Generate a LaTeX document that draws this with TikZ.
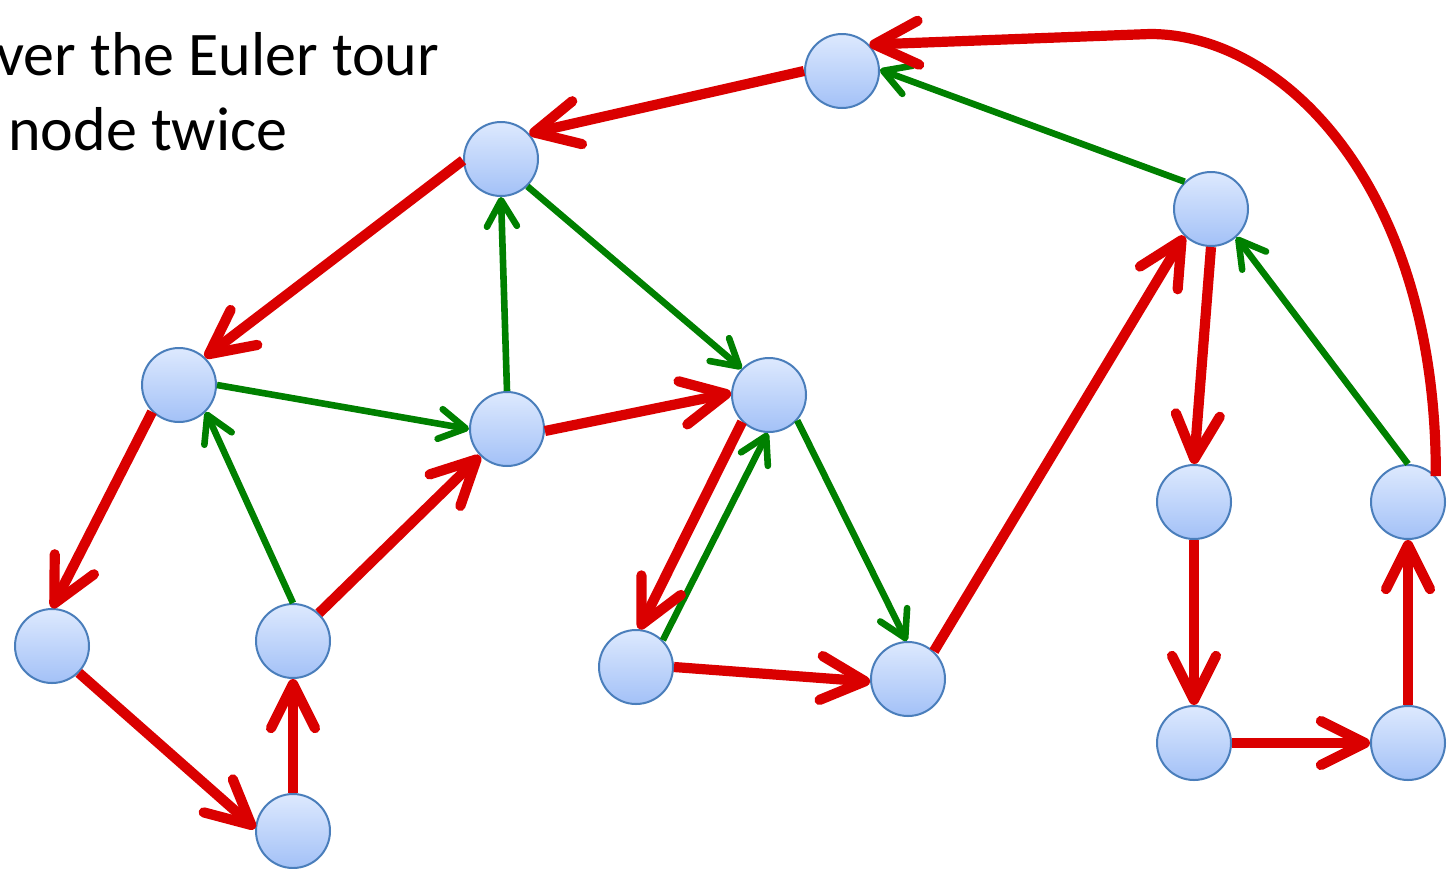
\documentclass[tikz,border=0pt]{standalone}
\usepackage{fontspec}
\setmainfont{Carlito}
\usetikzlibrary{arrows.meta}
\definecolor{tourred}{HTML}{DA0000}
\definecolor{treegreen}{HTML}{008000}
\definecolor{nodeborder}{HTML}{4A7EBB}
\definecolor{nodetop}{HTML}{DDE9FE}
\definecolor{nodebot}{HTML}{A3C1F7}
\tikzset{
  vnode/.style={circle, minimum size=37pt, inner sep=0pt, draw=nodeborder, line width=1pt, top color=nodetop, bottom color=nodebot},
  tour/.style={draw=tourred, line width=5.1pt, -{Straight Barb[length=22pt,width=22pt,line cap=round,line join=round]}},
  tree/.style={draw=treegreen, line width=3.3pt, -{Straight Barb[length=13pt,width=15pt,line cap=round,line join=round]}},
  caption/.style={anchor=base west, inner sep=0pt, font=\fontsize{31pt}{37pt}\selectfont}
}
\begin{document}
\begin{tikzpicture}[x=0.5pt,y=-0.5pt]
\useasboundingbox (0,0) rectangle (1450,868);
\node[caption] (t1) at (-4,75) {ver the Euler tour};
\node[caption] (t2) at (8,150) {node twice};
\node[vnode] (A) at (842,71) {};
\node[vnode] (B) at (501,159) {};
\node[vnode] (C) at (1211,209) {};
\node[vnode] (D) at (179,385) {};
\node[vnode] (E) at (507,429) {};
\node[vnode] (F) at (769,395) {};
\node[vnode] (G) at (52,646) {};
\node[vnode] (H) at (293,641) {};
\node[vnode] (I) at (293,831) {};
\node[vnode] (J) at (636,667) {};
\node[vnode] (K) at (908,679) {};
\node[vnode] (L) at (1194,502) {};
\node[vnode] (M) at (1408,502) {};
\node[vnode] (N) at (1194,743) {};
\node[vnode] (O) at (1408,743) {};
% tree edges
\draw[tree] (C.134) -- (A.2);
\draw[tree] (B.314) -- (F.136);
\draw[tree] (E.90) -- (B.270);
\draw[tree] (D.0) -- (E.180);
\draw[tree] (H.90) -- (D.315);
\draw[tree] (J.45) -- (F.268);
\draw[tree] (F.318) -- (K.92);
\draw[tree] (M.90) -- (C.312);
% tour edges
\draw[tour] (A.180) -- (B.42);
\draw[tour] (B.182) -- (D.47);
\draw[tour] (D.225) -- (G.90);
\draw[tour] (G.315) -- (I.176);
\draw[tour] (I.90) -- (H.270);
\draw[tour] (H.47) -- (E.225);
\draw[tour] (E.357) -- (F.177);
\draw[tour] (F.225) -- (J.85);
\draw[tour] (J.0) -- (K.184);
\draw[tour] (K.47) -- (C.225);
\draw[tour] (C.270) -- (L.90);
\draw[tour] (L.270) -- (N.90);
\draw[tour] (N.0) -- (O.180);
\draw[tour] (O.90) -- (M.270);
\coordinate (top) at (1150,34);
\draw[tour] (M.43) .. controls (1437,190) and (1285,34) .. (top) -- (A.44);
\end{tikzpicture}
\end{document}
